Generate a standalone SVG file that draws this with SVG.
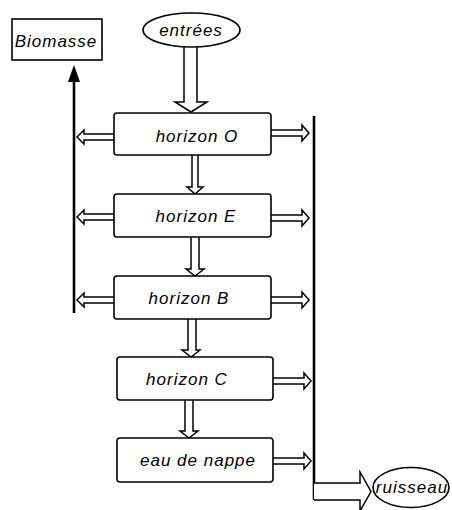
<svg xmlns="http://www.w3.org/2000/svg" width="452" height="510" viewBox="0 0 452 510">
<style>
.box{fill:#fff;stroke:#000;stroke-width:1.6}
.ell{fill:#fff;stroke:#000;stroke-width:1.6}
.hollow{fill:#fff;stroke:#000;stroke-width:1.5;stroke-linejoin:miter}
.line{fill:none;stroke:#000;stroke-width:2.6}
text{font-family:"Liberation Sans",Arial,sans-serif;font-style:italic;font-size:17px;letter-spacing:1px;text-anchor:middle;fill:#000}
</style>
<rect width="452" height="510" fill="#fff"/>
<g id="connectors">
  <!-- entrées to horizon O -->
  <path class="hollow" d="M184,47 V102 H175 L191,112 L207,102 H197 V47"/>
  <!-- vertical flows -->
  <path class="hollow" d="M192,155 V187 H187 L195,194 L203,187 H198 V155"/>
  <path class="hollow" d="M191,237 V269 H186 L195,276 L204,269 H199 V237"/>
  <path class="hollow" d="M188,319 V350 H182 L191,357 L200,350 H196 V319"/>
  <path class="hollow" d="M185,400 V431 H180 L189,438 L198,431 H193 V400"/>
  <!-- left flows -->
  <path class="hollow" d="M114,134 H84 V130 L77,137 L84,144 V140 H114"/>
  <path class="hollow" d="M114,214 H84 V210 L77,217 L84,224 V220 H114"/>
  <path class="hollow" d="M114,297 H84 V293 L77,300 L84,307 V303 H114"/>
  <!-- right flows -->
  <path class="hollow" d="M271,130 H302 V125 L309,133 L302,141 V136 H271"/>
  <path class="hollow" d="M271,215 H302 V210 L309,218 L302,226 V221 H271"/>
  <path class="hollow" d="M271,297 H302 V292 L309,300 L302,308 V303 H271"/>
  <path class="hollow" d="M273,378 H304 V373 L311,381 L304,389 V384 H273"/>
  <path class="hollow" d="M273,458 H304 V453 L311,461 L304,469 V464 H273"/>
  <!-- collector line and outflow -->
  <line class="line" x1="314" y1="116" x2="314" y2="500"/>
  <path class="hollow" d="M314,483 H360 V472 L371,491.5 L360,511 V500 H314"/>
  <!-- biomass line -->
  <line class="line" x1="74" y1="313" x2="74" y2="80"/>
  <polygon points="74,65 68,82 80,82" fill="#000"/>
</g>
<g id="entrees">
  <ellipse class="ell" cx="191.5" cy="30" rx="48.5" ry="17"/>
  <text x="191" y="36">entrées</text>
</g>
<g id="biomasse">
  <rect class="box" x="12" y="19" width="90" height="41"/>
  <text x="56" y="47">Biomasse</text>
</g>
<g id="horizonO">
  <rect class="box" x="114" y="113" width="157" height="42" rx="3"/>
  <text x="197" y="142">horizon O</text>
</g>
<g id="horizonE">
  <rect class="box" x="114" y="194" width="157" height="43" rx="3"/>
  <text x="196" y="222">horizon E</text>
</g>
<g id="horizonB">
  <rect class="box" x="114" y="276" width="157" height="43" rx="3"/>
  <text x="189" y="304">horizon B</text>
</g>
<g id="horizonC">
  <rect class="box" x="117" y="357" width="156" height="43" rx="3"/>
  <text x="187" y="385">horizon C</text>
</g>
<g id="eaudenappe">
  <rect class="box" x="117" y="438" width="156" height="44" rx="3"/>
  <text x="198" y="466">eau de nappe</text>
</g>
<g id="ruisseau">
  <ellipse class="ell" cx="411" cy="487.5" rx="38" ry="20"/>
  <text x="412" y="493">ruisseau</text>
</g>
</svg>
